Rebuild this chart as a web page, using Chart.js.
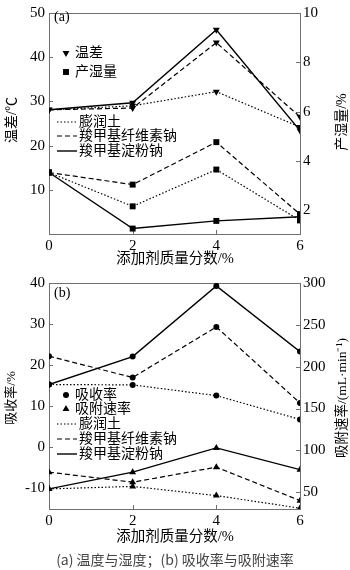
<!DOCTYPE html>
<html>
<head>
<meta charset="utf-8">
<script src="https://cdn.jsdelivr.net/npm/chart.js@4"></script>
<style>
  body { margin: 0; background: #fff; width: 350px; height: 570px; position: relative; overflow: hidden; }
  .panel { position: absolute; left: 0; width: 350px; }
  #caption { position: absolute; left: 0; width: 350px; top: 549px; text-align: center;
    font: 14px "Noto Sans CJK SC", sans-serif; color: #444; }
</style>
</head>
<body>
<div class="panel" style="top:0;height:270px"><canvas id="chartA" width="350" height="270"></canvas></div>
<div class="panel" style="top:270px;height:280px"><canvas id="chartB" width="350" height="280"></canvas></div>
<div id="caption">(a) 温度与湿度；(b) 吸收率与吸附速率</div>
<script>
// additive mass fraction (%)
var additive = [0, 2, 4, 6];
var materials = ['膨润土', '羧甲基纤维素钠', '羧甲基淀粉钠'];

// (a) temperature difference (left axis, °C)
var tempBentonite = [28.1, 29.0, 32.2, 24.2];
var tempCmc = [28.1, 28.5, 43.3, 26.5];
var tempCms = [28.1, 29.7, 46.2, 23.4];
// (a) moisture output (right axis, %)
var humBentonite = [3.54, 2.17, 3.66, 1.6];
var humCmc = [3.54, 3.05, 4.77, 1.85];
var humCms = [3.54, 1.27, 1.58, 1.75];

// (b) absorption rate (left axis, %)
var absBentonite = [15.3, 15.2, 12.6, 6.8];
var absCmc = [22.2, 17.0, 29.3, 10.8];
var absCms = [15.3, 22.1, 39.3, 23.3];
// (b) adsorption speed (right axis, mL/min)
var rateBentonite = [54, 57, 46, 31];
var rateCmc = [74, 62, 80, 40];
var rateCms = [54, 74, 103, 77];

// tick labels
var xTicks = [0, 2, 4, 6];
var tempTicks = [10, 20, 30, 40, 50];
var humTicks = [2, 4, 6, 8, 10];
var absTicks = [-10, 0, 10, 20, 30, 40];
var rateTicks = [50, 100, 150, 200, 250, 300];

var serif = '"Liberation Serif", "Noto Sans CJK SC", serif';
var dashes = [[1.5, 2], [5, 3], []];

function pts(values) {
    return values.map(function(v, i) { return { x: additive[i], y: v }; });
}

function series(values, idx, axis, style, rot, radius) {
    return {
        data: pts(values),
        yAxisID: axis,
        borderColor: '#000',
        backgroundColor: '#000',
        borderWidth: idx === 2 ? 1.4 : 1.2,
        borderDash: dashes[idx],
        pointStyle: style,
        rotation: rot,
        pointRadius: radius,
        pointBorderWidth: 0,
        tension: 0
    };
}

function fixedTicks(list) {
    return function(scale) {
        scale.ticks = list.map(function(v) { return { value: v }; });
    };
}

function axisFont(size) {
    return { family: serif, size: size };
}

var framePlugin = {
    id: 'frame',
    beforeDatasetsDraw: function(chart) {
        var ctx = chart.ctx, a = chart.chartArea;
        ctx.save();
        ctx.strokeStyle = '#707070';
        ctx.lineWidth = 1;
        ctx.strokeRect(Math.round(a.left) + 0.5, Math.round(a.top) + 0.5,
            Math.round(a.right - a.left), Math.round(a.bottom - a.top));
        ctx.beginPath();
        var sy = chart.scales.y, sy1 = chart.scales.y1, sx = chart.scales.x;
        sy.ticks.forEach(function(t) {
            var p = Math.round(sy.getPixelForValue(t.value)) + 0.5;
            ctx.moveTo(a.left, p); ctx.lineTo(a.left + 4, p);
        });
        sy1.ticks.forEach(function(t) {
            var p = Math.round(sy1.getPixelForValue(t.value)) + 0.5;
            ctx.moveTo(a.right, p); ctx.lineTo(a.right - 4, p);
        });
        sx.ticks.forEach(function(t) {
            var p = Math.round(sx.getPixelForValue(t.value)) + 0.5;
            ctx.moveTo(p, a.bottom); ctx.lineTo(p, a.bottom - 4);
        });
        ctx.stroke();
        ctx.restore();
    },
    afterDraw: function(chart) {
        var o = chart.options.plugins.frame;
        var ctx = chart.ctx;
        ctx.save();
        ctx.fillStyle = '#000';
        ctx.strokeStyle = '#000';
        ctx.textBaseline = 'middle';

        ctx.font = '14px ' + serif;
        ctx.textAlign = 'left';
        ctx.fillText(o.tag, 54, o.tagY);

        ctx.font = '14.5px ' + serif;
        ctx.textAlign = 'center';
        ctx.fillText('添加剂质量分数/%', 175, o.xTitleY);

        // vertical titles, both reading bottom-to-top
        [o.left, o.right].forEach(function(t) {
            ctx.save();
            ctx.translate(t.x, t.y);
            ctx.rotate(-Math.PI / 2);
            ctx.font = t.size + 'px ' + serif;
            ctx.fillText(t.text, 0, 0);
            ctx.restore();
        });

        // legend inside the plot
        ctx.font = '14px ' + serif;
        ctx.textAlign = 'left';
        o.legend.forEach(function(e) {
            if (e.marker) {
                Chart.helpers.drawPoint(ctx, { pointStyle: e.marker, rotation: e.rot || 0, radius: e.r, borderWidth: 0 }, 66, e.y);
                ctx.fillText(e.text, 75, e.y);
            } else {
                ctx.save();
                ctx.lineWidth = e.dash.length ? 1.2 : 1.4;
                ctx.setLineDash(e.dash);
                ctx.beginPath();
                ctx.moveTo(57, e.y); ctx.lineTo(77, e.y);
                ctx.stroke();
                ctx.restore();
                ctx.fillText(e.text, 79, e.y);
            }
        });
        ctx.restore();
    }
};

function makeChart(id, datasets, yRange, yTicks, y1Range, y1Ticks, topPad, xHeight, frame) {
    return new Chart(document.getElementById(id), {
        type: 'line',
        data: { datasets: datasets },
        plugins: [framePlugin],
        options: {
            responsive: false,
            animation: false,
            devicePixelRatio: 1,
            layout: { padding: { top: topPad, left: 0, right: 0, bottom: 0 } },
            plugins: { legend: { display: false }, tooltip: { enabled: false }, frame: frame },
            scales: {
                x: {
                    type: 'linear', min: 0, max: 6,
                    afterBuildTicks: fixedTicks(xTicks),
                    afterFit: function(s) { s.height = xHeight; },
                    grid: { display: false, drawTicks: false }, border: { display: false },
                    ticks: { font: axisFont(15), color: '#000', padding: 3, maxRotation: 0 }
                },
                y: {
                    position: 'left', min: yRange[0], max: yRange[1],
                    afterBuildTicks: fixedTicks(yTicks),
                    afterFit: function(s) { s.width = 49; },
                    grid: { display: false, drawTicks: false }, border: { display: false },
                    ticks: { font: axisFont(15), color: '#000', padding: 4 }
                },
                y1: {
                    position: 'right', min: y1Range[0], max: y1Range[1],
                    afterBuildTicks: fixedTicks(y1Ticks),
                    afterFit: function(s) { s.width = 50; },
                    grid: { display: false, drawTicks: false }, border: { display: false },
                    ticks: { font: axisFont(15), color: '#000', padding: 3 }
                }
            }
        }
    });
}

makeChart('chartA', [
    series(tempBentonite, 0, 'y', 'triangle', 180, 4),
    series(tempCmc, 1, 'y', 'triangle', 180, 4),
    series(tempCms, 2, 'y', 'triangle', 180, 4),
    series(humBentonite, 0, 'y1', 'rect', 0, 4.2),
    series(humCmc, 1, 'y1', 'rect', 0, 4.2),
    series(humCms, 2, 'y1', 'rect', 0, 4.2)
], [0, 50], tempTicks, [1.05, 10], humTicks, 6, 36, {
    tag: '(a)', tagY: 17, xTitleY: 259,
    left: { text: '温差/℃', x: 12, y: 120, size: 14 },
    right: { text: '产湿量/%', x: 342, y: 122, size: 14 },
    legend: [
        { marker: 'triangle', rot: 180, r: 4, y: 53, text: '温差' },
        { marker: 'rect', r: 4.2, y: 72, text: '产湿量' },
        { dash: dashes[0], y: 122, text: materials[0] },
        { dash: dashes[1], y: 136, text: materials[1] },
        { dash: dashes[2], y: 151, text: materials[2] }
    ]
});

makeChart('chartB', [
    series(absBentonite, 0, 'y', 'circle', 0, 3),
    series(absCmc, 1, 'y', 'circle', 0, 3),
    series(absCms, 2, 'y', 'circle', 0, 3),
    series(rateBentonite, 0, 'y1', 'triangle', 0, 4),
    series(rateCmc, 1, 'y1', 'triangle', 0, 4),
    series(rateCms, 2, 'y1', 'triangle', 0, 4)
], [-15, 40], absTicks, [30, 300], rateTicks, 10, 41, {
    tag: '(b)', tagY: 23, xTitleY: 267,
    left: { text: '吸收率/%', x: 12, y: 128, size: 13 },
    right: { text: '吸附速率/(mL·min⁻¹)', x: 342, y: 128, size: 13.5 },
    legend: [
        { marker: 'circle', r: 3, y: 125, text: '吸收率' },
        { marker: 'triangle', r: 4, y: 139, text: '吸附速率' },
        { dash: dashes[0], y: 154, text: materials[0] },
        { dash: dashes[1], y: 169, text: materials[1] },
        { dash: dashes[2], y: 184, text: materials[2] }
    ]
});
</script>
</body>
</html>
